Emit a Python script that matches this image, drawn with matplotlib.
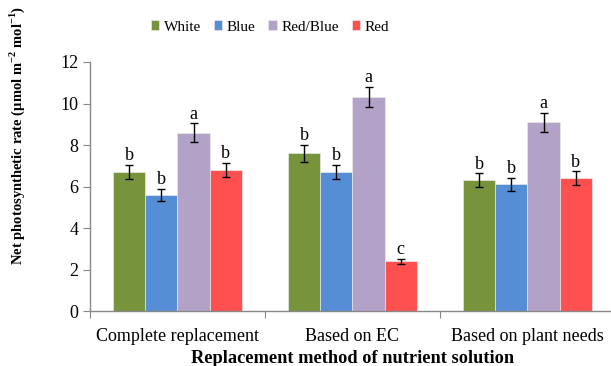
import matplotlib
matplotlib.use("Agg")
import matplotlib.pyplot as plt
import numpy as np

categories = ["Complete replacement", "Based on EC", "Based on plant needs"]
series = ["White", "Blue", "Red/Blue", "Red"]
white = [6.7, 7.6, 6.3]
blue = [5.6, 6.7, 6.1]
redblue = [8.6, 10.3, 9.1]
red = [6.8, 2.4, 6.4]
white_err = [0.34, 0.40, 0.33]
blue_err = [0.29, 0.34, 0.32]
redblue_err = [0.44, 0.49, 0.45]
red_err = [0.34, 0.12, 0.33]
white_sig = ["b", "b", "b"]
blue_sig = ["b", "b", "b"]
redblue_sig = ["a", "a", "a"]
red_sig = ["b", "c", "b"]
yticks = [0, 2, 4, 6, 8, 10, 12]

colors = ["#77933C", "#558ED5", "#B3A2C7", "#FF5050"]

plt.rcParams['font.family'] = ['Liberation Serif', 'DejaVu Serif']
plt.rcParams['mathtext.fontset'] = 'custom'
plt.rcParams['mathtext.rm'] = 'Liberation Serif:bold'
plt.rcParams['mathtext.bf'] = 'Liberation Serif:bold'

fig = plt.figure(figsize=(6.11, 3.66), dpi=100)
ax = fig.add_axes([90/611, 1-311/366, 525/611, (311-62)/366])

vals = [white, blue, redblue, red]
errs = [white_err, blue_err, redblue_err, red_err]
sigs = [white_sig, blue_sig, redblue_sig, red_sig]
x = np.arange(len(categories))
w = 0.183
for i, (v, e, s, c, name) in enumerate(zip(vals, errs, sigs, colors, series)):
    pos = x + (i - 1.5) * w
    ax.bar(pos, v, width=w, color=c, edgecolor="#E8E8E8", linewidth=0.5, label=name)
    ax.errorbar(pos, v, yerr=e, fmt="none", ecolor="black", elinewidth=1.0, capsize=3, capthick=1.0)
    for p, vv, ee, ss in zip(pos, v, e, s):
        ax.text(p, vv + ee + 0.03, ss, ha="center", va="bottom", fontsize=13)

ax.set_xlim(-0.5, 2.5)
ax.set_ylim(0, 12)
ax.set_yticks(yticks)
ax.set_xticks([-0.5, 0.5, 1.5, 2.5], minor=False)
ax.set_xticklabels([])
ax.set_xticks(x, minor=True)
ax.set_xticklabels(categories, minor=True)
ax.tick_params(axis="x", which="minor", length=0, labelsize=13, pad=12)
ax.tick_params(axis="x", which="major", length=5, color="#888888", direction="out")
ax.tick_params(axis="y", length=5, color="#888888", labelsize=13, direction="out")
for sp in ["top", "right"]:
    ax.spines[sp].set_visible(False)
for sp in ["left", "bottom"]:
    ax.spines[sp].set_color("#888888")
    ax.spines[sp].set_linewidth(1.0)

fig.text(353/611, 1-363/366, "Replacement method of nutrient solution", ha="center", va="baseline",
         fontsize=13.2, fontweight="bold")
fig.text(17/611, 1-135/366, r"Net photosynthetic rate (μmol m$^{-2}$ mol$^{-1}$)", rotation=90,
         ha="center", va="center", fontsize=10.5, fontweight="bold")

fig.legend(loc="center", bbox_to_anchor=(270/611, 1-27/366), ncol=4, frameon=False,
           fontsize=11, handlelength=0.55, handleheight=0.55, handletextpad=0.3, columnspacing=0.85)

fig.savefig("out.png", dpi=100)
